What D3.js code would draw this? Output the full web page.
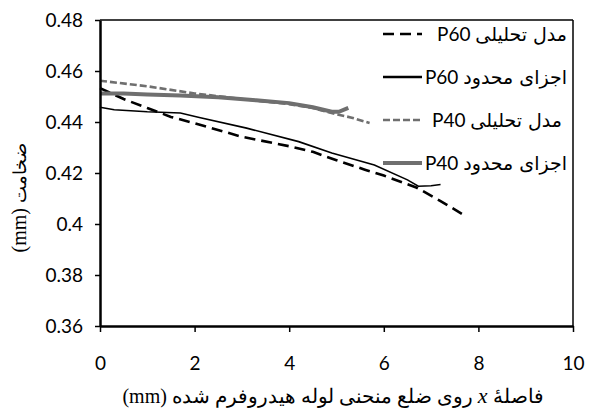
<!DOCTYPE html>
<html>
<head>
<meta charset="utf-8">
<script src="https://cdn.jsdelivr.net/npm/d3@7"></script>
<style>
  body { margin: 0; background: #fff; }
  svg text { font-family: Lato, "Open Sans", sans-serif; }
</style>
</head>
<body>
<div id="chart"></div>
<script>
// thickness along curved side
var xP60a = [0, 0.5, 1, 1.5, 2, 3, 4, 4.5, 5, 5.6, 6, 6.7, 7.2, 7.65];
var yP60a = [0.4533, 0.4490, 0.4455, 0.4420, 0.4395, 0.4342, 0.4305, 0.4283, 0.4250, 0.4213, 0.4190, 0.4142, 0.4090, 0.4040];

var xP60f = [0, 0.3, 1, 1.7, 2.1, 3.1, 4.2, 4.9, 5.8, 6.5, 6.73, 7.0, 7.2];
var yP60f = [0.4458, 0.4448, 0.4440, 0.4435, 0.4418, 0.4376, 0.4323, 0.4278, 0.4231, 0.4173, 0.4148, 0.4150, 0.4155];

var xP40a = [0, 1, 2, 3, 4, 4.5, 5, 5.3, 5.7];
var yP40a = [0.4562, 0.4540, 0.4512, 0.4490, 0.4470, 0.4455, 0.4430, 0.4418, 0.4396];

var xP40f = [0, 0.5, 1, 1.7, 2.5, 3.3, 4, 4.5, 4.9, 5.05, 5.25];
var yP40f = [0.4512, 0.4512, 0.4508, 0.4504, 0.4497, 0.4485, 0.4474, 0.4458, 0.4440, 0.4440, 0.4455];

var xTicks = [0, 2, 4, 6, 8, 10];
var yTicks = [0.36, 0.38, 0.40, 0.42, 0.44, 0.46, 0.48];

var legendCodes = ["P60", "P60", "P40", "P40"];
var legendNames = ["مدل  تحلیلی", "اجزای محدود", "مدل تحلیلی", "اجزای محدود"];

var W = 590, H = 410;
var svg = d3.select("#chart").append("svg")
    .attr("width", W).attr("height", H);

var x = d3.scaleLinear().domain([0, 10]).range([100, 573]);
var y = d3.scaleLinear().domain([0.36, 0.48]).range([326, 20]);

function zip(xs, ys) { return xs.map(function(d, i) { return [d, ys[i]]; }); }

var series = [
  { pts: zip(xP60a, yP60a), color: "#000", width: 2.6, dash: "11,6" },
  { pts: zip(xP60f, yP60f), color: "#000", width: 1.6, dash: null },
  { pts: zip(xP40a, yP40a), color: "#6f6f6f", width: 2.6, dash: "7,3" },
  { pts: zip(xP40f, yP40f), color: "#6f6f6f", width: 4, dash: null }
];

// frame top / right
svg.append("line").attr("x1", 100).attr("x2", 573).attr("y1", 20).attr("y2", 20)
    .attr("stroke", "#000").attr("stroke-width", 1.5);
svg.append("line").attr("x1", 573).attr("x2", 573).attr("y1", 20).attr("y2", 326)
    .attr("stroke", "#000").attr("stroke-width", 1.5);

var line = d3.line().x(function(d) { return x(d[0]); }).y(function(d) { return y(d[1]); });

svg.selectAll("path.series").data(series).enter()
  .append("path")
    .attr("class", "series")
    .attr("d", function(d) { return line(d.pts); })
    .attr("fill", "none")
    .attr("stroke", function(d) { return d.color; })
    .attr("stroke-width", function(d) { return d.width; })
    .attr("stroke-dasharray", function(d) { return d.dash; });

// axes
var xAxis = svg.append("g").attr("transform", "translate(0,326)")
    .call(d3.axisBottom(x).tickValues(xTicks).tickSize(6).tickSizeOuter(0).tickFormat(d3.format("d")));
var yAxis = svg.append("g").attr("transform", "translate(100,0)")
    .call(d3.axisLeft(y).tickValues(yTicks).tickSize(5).tickSizeOuter(0)
      .tickFormat(function(d) { return d === 0.4 ? "0.4" : d3.format(".2f")(d); }));

xAxis.select(".domain").attr("stroke-width", 2.5);
yAxis.select(".domain").attr("stroke-width", 2.5);
xAxis.selectAll(".tick line").attr("stroke-width", 1.5);
yAxis.selectAll(".tick line").attr("stroke-width", 1.5);
xAxis.selectAll("text").attr("font-size", 19).attr("font-family", "Lato").attr("fill", "#000").attr("y", 31).attr("dy", "0.71em");
yAxis.selectAll("text").attr("font-size", 19).attr("font-family", "Lato").attr("fill", "#000").attr("x", -17).attr("dy", "0.36em");

// legend
var leg = svg.append("g").selectAll("g").data(series).enter()
  .append("g").attr("transform", function(d, i) { return "translate(0," + (34 + i * 43) + ")"; });
leg.append("line").attr("x1", 383).attr("x2", 422).attr("y1", 0).attr("y2", 0)
    .attr("stroke", function(d) { return d.color; })
    .attr("stroke-width", function(d, i) { return i === 1 ? 2.6 : d.width; })
    .attr("stroke-dasharray", function(d) { return d.dash; });
var legText = leg.append("text")
    .attr("x", function(d, i) { return i === 2 ? 562 : 567; })
    .attr("y", 7)
    .attr("text-anchor", "end");
legText.append("tspan").attr("font-size", 19).attr("font-family", "Lato")
    .text(function(d, i) { return legendCodes[i] + "\u00a0"; });
legText.append("tspan").attr("font-size", 19).attr("font-family", "'DejaVu Sans'")
    .text(function(d, i) { return legendNames[i]; });

// axis titles
var xt = svg.append("text")
    .attr("x", 333).attr("y", 403)
    .attr("text-anchor", "middle")
    .attr("direction", "rtl")
    .attr("font-size", 19.5)
    .attr("font-family", "'DejaVu Sans'");
xt.append("tspan").text("فاصلهٔ ");
xt.append("tspan").attr("font-family", "'Liberation Serif'").attr("font-style", "italic").attr("font-size", 22).text("x");
xt.append("tspan").text(" روی ضلع منحنی لوله هیدروفرم شده ");
xt.append("tspan").attr("font-family", "'Liberation Serif'").attr("font-size", 20).text("(mm)");

var yt = svg.append("text")
    .attr("transform", "translate(26,198) rotate(-90)")
    .attr("text-anchor", "middle")
    .attr("direction", "rtl")
    .attr("font-size", 18)
    .attr("font-family", "'DejaVu Sans'");
yt.append("tspan").text("ضخامت ");
yt.append("tspan").attr("font-family", "'Liberation Serif'").attr("font-size", 20).text("(mm)");
</script>
</body>
</html>
